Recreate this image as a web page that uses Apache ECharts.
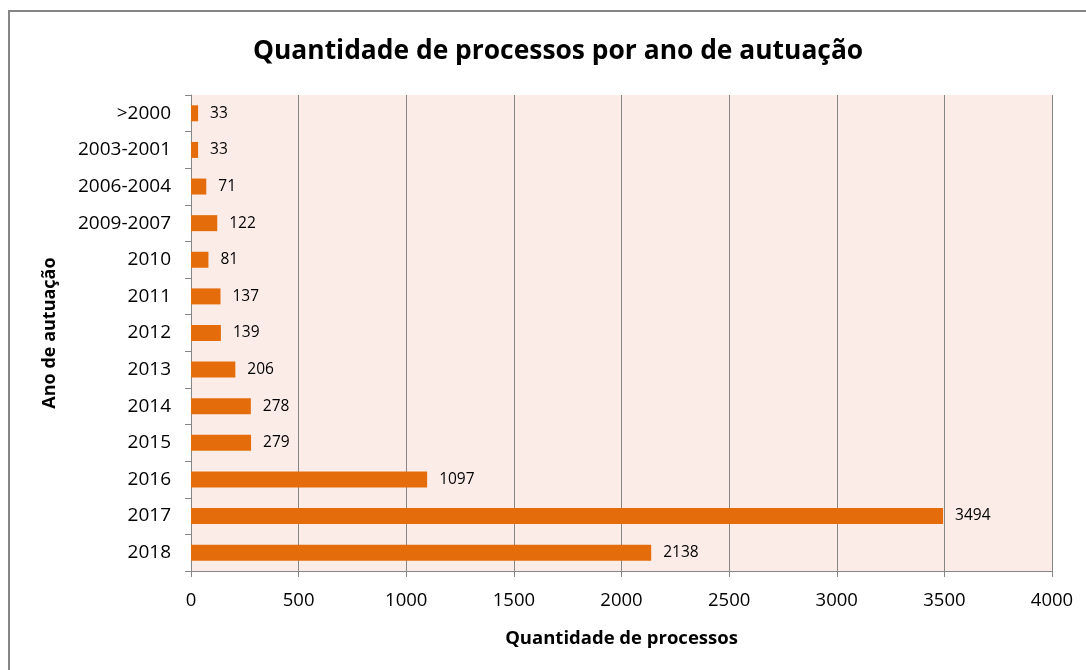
<!DOCTYPE html>
<html>
<head>
<meta charset="utf-8">
<script src="https://cdn.jsdelivr.net/npm/echarts@6/dist/echarts.min.js"></script>
<style>
  body { margin: 0; background: #fff; }
  #main { width: 1086px; height: 670px; }
</style>
</head>
<body>
<div id="main"></div>
<script>
// categories top to bottom, as shown
var anos = ['>2000', '2003-2001', '2006-2004', '2009-2007', '2010', '2011', '2012', '2013', '2014', '2015', '2016', '2017', '2018'];
var processos = [33, 33, 71, 122, 81, 137, 139, 206, 278, 279, 1097, 3494, 2138];
var xTicks = [0, 500, 1000, 1500, 2000, 2500, 3000, 3500, 4000];

var fonte = '"Open Sans", sans-serif';
var myChart = echarts.init(document.getElementById('main'));

var option = {
  backgroundColor: '#fff',
  textStyle: { fontFamily: fonte },
  title: {
    text: 'Quantidade de processos por ano de autuação',
    left: 248,
    top: 33,
    textStyle: { fontSize: 26.4, fontWeight: 'bold', color: '#000', fontFamily: fonte }
  },
  graphic: [{
    // outer frame: only top and left edges are visible in the picture
    type: 'rect',
    shape: { x: 9, y: 11, width: 1200, height: 800 },
    style: { fill: 'none', stroke: '#868686', lineWidth: 2 },
    silent: true
  }],
  grid: { left: 191, right: 34, top: 95, bottom: 99, containLabel: false },
  xAxis: {
    type: 'value',
    min: xTicks[0],
    max: xTicks[xTicks.length - 1],
    interval: 500,
    name: 'Quantidade de processos',
    nameLocation: 'middle',
    nameGap: 58,
    nameTextStyle: { fontSize: 18.5, fontWeight: 'bold', color: '#000' },
    axisLine: { show: true, lineStyle: { color: '#868686' } },
    axisTick: { show: true, length: 6, lineStyle: { color: '#868686' } },
    axisLabel: { fontSize: 18.5, color: '#000', margin: 20, formatter: function (v) { return String(v); } },
    splitLine: { show: true, lineStyle: { color: '#868686', width: 1 } },
    z: 2
  },
  yAxis: {
    type: 'category',
    data: anos,
    inverse: true,
    name: 'Ano de autuação',
    nameLocation: 'middle',
    nameGap: 132,
    nameTextStyle: { fontSize: 18, fontWeight: 'bold', color: '#000' },
    axisLine: { show: true, lineStyle: { color: '#868686' } },
    axisTick: { show: true, length: 6, lineStyle: { color: '#868686' } },
    axisLabel: { fontSize: 19, color: '#000', margin: 20 },
    z: 2
  },
  series: [{
    type: 'bar',
    data: processos,
    barWidth: 16,
    itemStyle: { color: '#E46C0A' },
    label: { show: true, position: 'right', distance: 12, fontSize: 15.5, color: '#000' },
    markArea: {
      silent: true,
      itemStyle: { color: '#FCECE8' },
      data: [[{ xAxis: xTicks[0] }, { xAxis: xTicks[xTicks.length - 1] }]],
      z: -1
    },
    z: 3
  }]
};

myChart.setOption(option);
</script>
</body>
</html>
